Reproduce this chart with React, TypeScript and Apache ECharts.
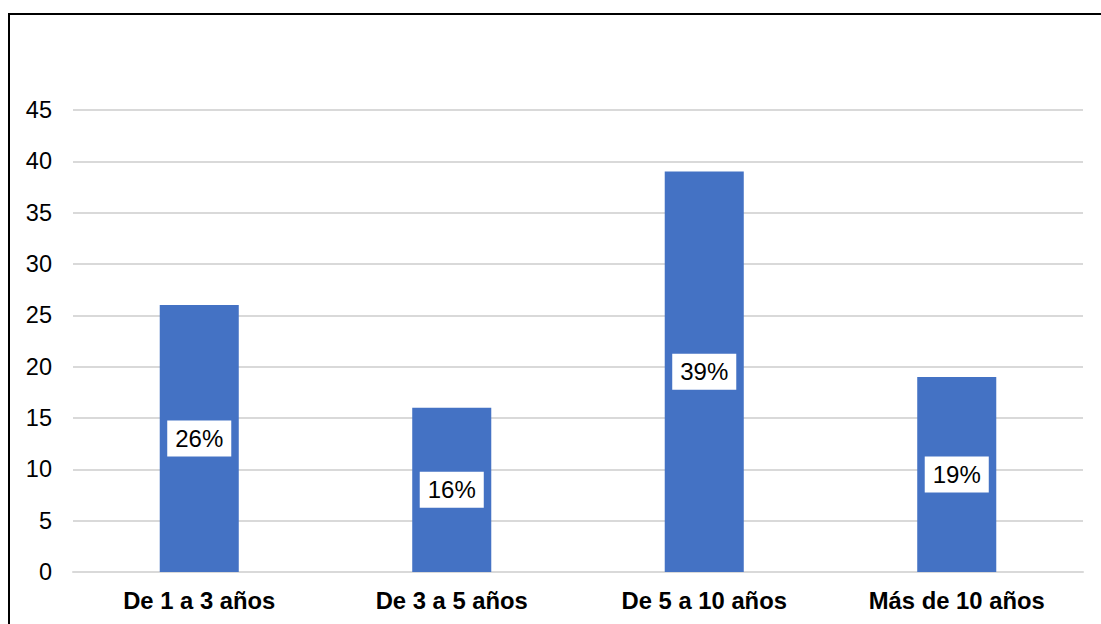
import React, { useEffect, useRef } from "react";
import * as echarts from "echarts";

const categories = ["De 1 a 3 años", "De 3 a 5 años", "De 5 a 10 años", "Más de 10 años"];
const values = [26, 16, 39, 19];
const yTicks = { min: 0, max: 45, interval: 5 };

const FONT = "'Liberation Sans', Arial, sans-serif";

export default function App() {
  const ref = useRef<HTMLDivElement>(null);
  useEffect(() => {
    if (!ref.current) return;
    const chart = echarts.init(ref.current, undefined, { renderer: "svg" });
    chart.setOption({
      animation: false,
      backgroundColor: "#ffffff",
      grid: { left: 73, right: 18, top: 110, bottom: 52, containLabel: false },
      graphic: [
        {
          type: "rect",
          shape: { x: 9, y: 14, width: 1200, height: 800 },
          style: { fill: "none", stroke: "#000000", lineWidth: 2 },
          silent: true,
          z: 100,
        },
      ],
      xAxis: {
        type: "category",
        data: categories,
        axisTick: { show: false },
        axisLine: { show: true, lineStyle: { color: "#d9d9d9", width: 2 } },
        axisLabel: {
          color: "#000000",
          fontFamily: FONT,
          fontSize: 23.8,
          fontWeight: "bold",
          margin: 16,
        },
      },
      yAxis: {
        type: "value",
        min: yTicks.min,
        max: yTicks.max,
        interval: yTicks.interval,
        axisLine: { show: false },
        axisTick: { show: false },
        splitLine: { lineStyle: { color: "#d9d9d9", width: 2 } },
        axisLabel: { color: "#000000", fontFamily: FONT, fontSize: 23.5, margin: 21 },
      },
      series: [
        {
          type: "bar",
          data: values,
          barWidth: "31.3%",
          itemStyle: { color: "#4472c4" },
          label: {
            show: true,
            position: "inside",
            formatter: "{c}%",
            color: "#000000",
            fontFamily: FONT,
            fontSize: 24,
            lineHeight: 24,
            backgroundColor: "#ffffff",
            padding: [6, 8, 6, 8],
          },
        },
      ],
    });
    return () => chart.dispose();
  }, []);
  return (
    <div
      ref={ref}
      style={{ position: "fixed", left: 0, top: 0, width: 1101, height: 624 }}
    />
  );
}
